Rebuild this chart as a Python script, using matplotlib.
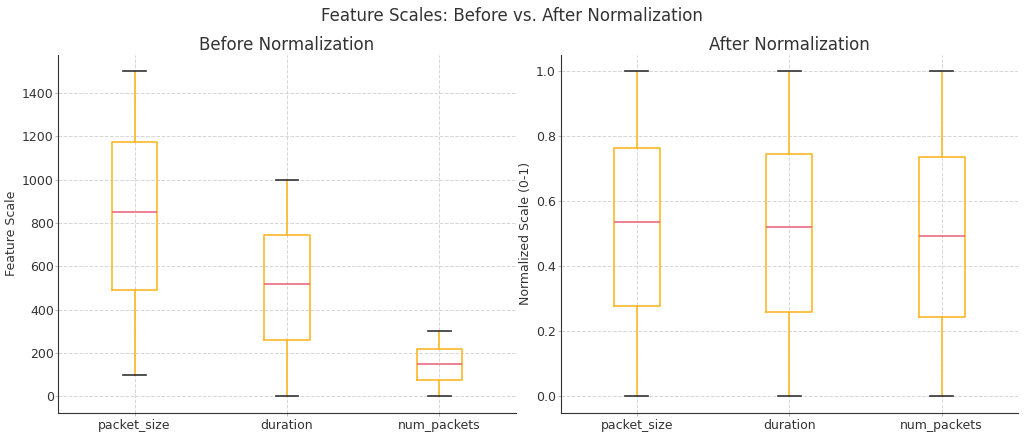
import matplotlib.pyplot as plt

# --- DATA ---
features = ['packet_size', 'duration', 'num_packets']

# before normalization: whisker low, Q1, median, Q3, whisker high
raw_low = [100, 0, 0]
raw_q1 = [489, 260, 73]
raw_med = [849, 520, 147]
raw_q3 = [1172, 745, 220]
raw_high = [1500, 1000, 300]

# after min-max normalization
norm_low = [0.0, 0.0, 0.0]
norm_q1 = [0.277, 0.26, 0.245]
norm_med = [0.535, 0.52, 0.492]
norm_q3 = [0.765, 0.745, 0.735]
norm_high = [1.0, 1.0, 1.0]
# ---------------------

BOX_COLOR = '#FDB827'
MED_COLOR = '#EE6A80'
CAP_COLOR = '#333333'
TEXT_COLOR = '#333333'

plt.rcParams['text.color'] = TEXT_COLOR
plt.rcParams['axes.labelcolor'] = TEXT_COLOR
plt.rcParams['xtick.labelcolor'] = TEXT_COLOR
plt.rcParams['ytick.labelcolor'] = TEXT_COLOR


def make_stats(low, q1, med, q3, high):
    stats = []
    for name, a, b, c, d, e in zip(features, low, q1, med, q3, high):
        stats.append(dict(label=name, whislo=a, q1=b, med=c, q3=d, whishi=e, fliers=[]))
    return stats


def draw(ax, stats, title, ylabel):
    ax.bxp(stats, widths=0.3, showfliers=False,
           boxprops=dict(color=BOX_COLOR, linewidth=1.2),
           whiskerprops=dict(color=BOX_COLOR, linewidth=1.2),
           capprops=dict(color=CAP_COLOR, linewidth=1.2),
           medianprops=dict(color=MED_COLOR, linewidth=1.2))
    ax.set_title(title, fontsize=12, pad=4)
    ax.set_ylabel(ylabel, fontsize=9, labelpad=3)
    ax.grid(True, linestyle='--', color='#cccccc', linewidth=0.7, alpha=0.8)
    ax.set_axisbelow(True)
    for side in ['top', 'right']:
        ax.spines[side].set_visible(False)
    for side in ['left', 'bottom']:
        ax.spines[side].set_color(CAP_COLOR)
    ax.tick_params(axis='y', labelsize=9, length=2.5, pad=0.8, color='#bbbbbb')
    ax.tick_params(axis='x', labelsize=9, length=2.5, pad=2, color='#bbbbbb')


fig, (ax_before, ax_after) = plt.subplots(1, 2, figsize=(10.24, 4.37), dpi=100)
fig.subplots_adjust(left=0.057, right=0.994, bottom=0.056, top=0.874, wspace=0.098)

draw(ax_before, make_stats(raw_low, raw_q1, raw_med, raw_q3, raw_high),
     'Before Normalization', 'Feature Scale')
draw(ax_after, make_stats(norm_low, norm_q1, norm_med, norm_q3, norm_high),
     'After Normalization', 'Normalized Scale (0-1)')

fig.suptitle('Feature Scales: Before vs. After Normalization', fontsize=12, y=0.985)

fig.savefig('out.png', dpi=100)
